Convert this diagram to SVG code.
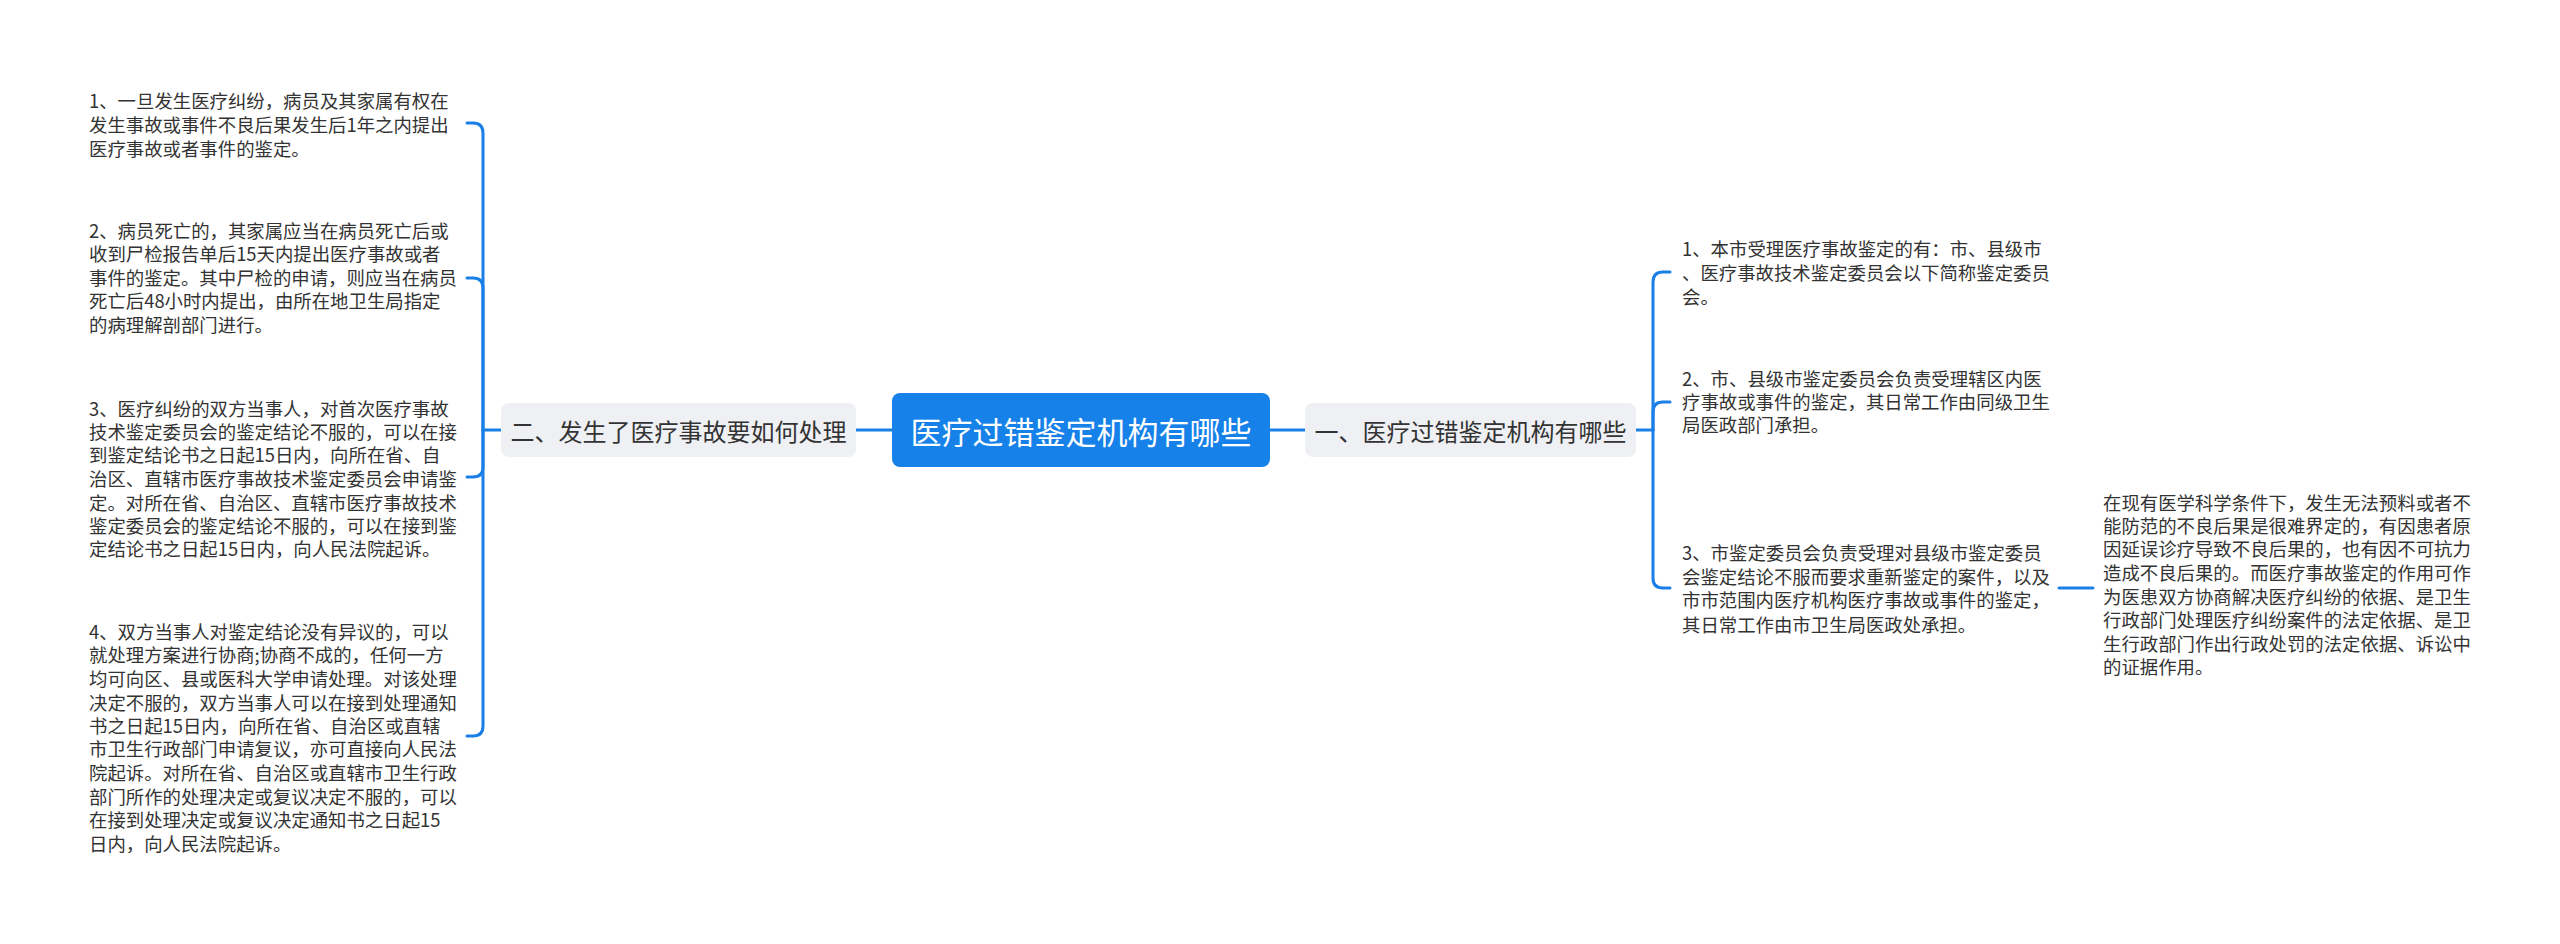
<svg xmlns="http://www.w3.org/2000/svg" width="2560" height="944" viewBox="0 0 2560 944">
<style>
text{font-family:"Noto Sans CJK SC","Noto Sans",sans-serif;fill:#333}
.leaf{font-size:18.4px}
.mid{font-size:24px;text-anchor:middle;dominant-baseline:central}
.root{font-size:31px;text-anchor:middle;dominant-baseline:central;fill:#fff}
.box{fill:#eef0f3}
.ln{fill:none;stroke:#1a7fe6;stroke-width:3;stroke-linecap:round}
</style>
<rect width="2560" height="944" fill="#fff"/>
<g id="connectors">
<path class="ln" d="M856 430H892"/>
<path class="ln" d="M1270 430H1305"/>
<path class="ln" d="M501 430H483"/>
<path class="ln" d="M483 430V133Q483 123 473 123H467"/>
<path class="ln" d="M483 430V288Q483 278 473 278H467"/>
<path class="ln" d="M483 430V467Q483 477 473 477H467"/>
<path class="ln" d="M483 430V726Q483 736 473 736H467"/>
<path class="ln" d="M1636 430H1653"/>
<path class="ln" d="M1653 430V282Q1653 272 1663 272H1670"/>
<path class="ln" d="M1653 430V412Q1653 402 1663 402H1670"/>
<path class="ln" d="M1653 430V578Q1653 588 1663 588H1670"/>
<path class="ln" d="M2059 588H2093"/>
</g>
<g id="root">
<rect x="892" y="393" width="378" height="74" rx="8" fill="#1681e8"/>
<text class="root" x="1081" y="430">医疗过错鉴定机构有哪些</text>
</g>
<g id="n2">
<rect class="box" x="501" y="403" width="355" height="54" rx="8"/>
<text class="mid" x="678.5" y="430">二、发生了医疗事故要如何处理</text>
</g>
<g id="n1">
<rect class="box" x="1305" y="403" width="331" height="54" rx="8"/>
<text class="mid" x="1470.5" y="430">一、医疗过错鉴定机构有哪些</text>
</g>
<g id="l2-1">
<text class="leaf" x="89" y="108">1、一旦发生医疗纠纷，病员及其家属有权在</text>
<text class="leaf" x="89" y="131.5">发生事故或事件不良后果发生后1年之内提出</text>
<text class="leaf" x="89" y="155.5">医疗事故或者事件的鉴定。</text>
</g>
<g id="l2-2">
<text class="leaf" x="89" y="238">2、病员死亡的，其家属应当在病员死亡后或</text>
<text class="leaf" x="89" y="261">收到尸检报告单后15天内提出医疗事故或者</text>
<text class="leaf" x="89" y="285">事件的鉴定。其中尸检的申请，则应当在病员</text>
<text class="leaf" x="89" y="308">死亡后48小时内提出，由所在地卫生局指定</text>
<text class="leaf" x="89" y="331.5">的病理解剖部门进行。</text>
</g>
<g id="l2-3">
<text class="leaf" x="89" y="415.7">3、医疗纠纷的双方当事人，对首次医疗事故</text>
<text class="leaf" x="89" y="439.1">技术鉴定委员会的鉴定结论不服的，可以在接</text>
<text class="leaf" x="89" y="462.4">到鉴定结论书之日起15日内，向所在省、自</text>
<text class="leaf" x="89" y="486.4">治区、直辖市医疗事故技术鉴定委员会申请鉴</text>
<text class="leaf" x="89" y="509.7">定。对所在省、自治区、直辖市医疗事故技术</text>
<text class="leaf" x="89" y="533.1">鉴定委员会的鉴定结论不服的，可以在接到鉴</text>
<text class="leaf" x="89" y="556.4">定结论书之日起15日内，向人民法院起诉。</text>
</g>
<g id="l2-4">
<text class="leaf" x="89" y="639.1">4、双方当事人对鉴定结论没有异议的，可以</text>
<text class="leaf" x="89" y="662.4">就处理方案进行协商;协商不成的，任何一方</text>
<text class="leaf" x="89" y="685.7">均可向区、县或医科大学申请处理。对该处理</text>
<text class="leaf" x="89" y="709.7">决定不服的，双方当事人可以在接到处理通知</text>
<text class="leaf" x="89" y="733.1">书之日起15日内，向所在省、自治区或直辖</text>
<text class="leaf" x="89" y="756.4">市卫生行政部门申请复议，亦可直接向人民法</text>
<text class="leaf" x="89" y="779.7">院起诉。对所在省、自治区或直辖市卫生行政</text>
<text class="leaf" x="89" y="803.7">部门所作的处理决定或复议决定不服的，可以</text>
<text class="leaf" x="89" y="827.1">在接到处理决定或复议决定通知书之日起15</text>
<text class="leaf" x="89" y="851.4">日内，向人民法院起诉。</text>
</g>
<g id="l1-1">
<text class="leaf" x="1682" y="256.4">1、本市受理医疗事故鉴定的有：市、县级市</text>
<text class="leaf" x="1682" y="279.7">、医疗事故技术鉴定委员会以下简称鉴定委员</text>
<text class="leaf" x="1682" y="303.7">会。</text>
</g>
<g id="l1-2">
<text class="leaf" x="1682" y="386.4">2、市、县级市鉴定委员会负责受理辖区内医</text>
<text class="leaf" x="1682" y="409.1">疗事故或事件的鉴定，其日常工作由同级卫生</text>
<text class="leaf" x="1682" y="432.4">局医政部门承担。</text>
</g>
<g id="l1-3">
<text class="leaf" x="1682" y="560.4">3、市鉴定委员会负责受理对县级市鉴定委员</text>
<text class="leaf" x="1682" y="583.7">会鉴定结论不服而要求重新鉴定的案件，以及</text>
<text class="leaf" x="1682" y="607.1">市市范围内医疗机构医疗事故或事件的鉴定，</text>
<text class="leaf" x="1682" y="632.4">其日常工作由市卫生局医政处承担。</text>
</g>
<g id="l1-3-1">
<text class="leaf" x="2103" y="509.7">在现有医学科学条件下，发生无法预料或者不</text>
<text class="leaf" x="2103" y="533.1">能防范的不良后果是很难界定的，有因患者原</text>
<text class="leaf" x="2103" y="556.4">因延误诊疗导致不良后果的，也有因不可抗力</text>
<text class="leaf" x="2103" y="580.4">造成不良后果的。而医疗事故鉴定的作用可作</text>
<text class="leaf" x="2103" y="603.7">为医患双方协商解决医疗纠纷的依据、是卫生</text>
<text class="leaf" x="2103" y="627.1">行政部门处理医疗纠纷案件的法定依据、是卫</text>
<text class="leaf" x="2103" y="651.1">生行政部门作出行政处罚的法定依据、诉讼中</text>
<text class="leaf" x="2103" y="673.7">的证据作用。</text>
</g>
</svg>
